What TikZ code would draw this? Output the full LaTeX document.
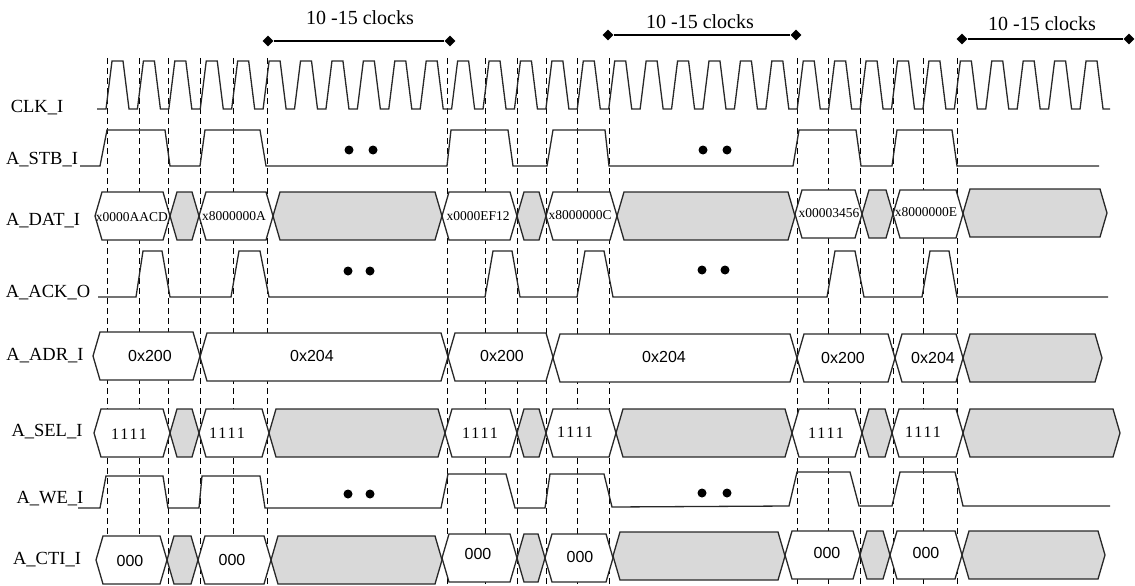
\documentclass[tikz,border=0pt]{standalone}
\usepackage{fontspec}
\setmainfont{Liberation Serif}
\newfontfamily\sansf{Liberation Sans}
\newfontfamily\spacedf[LetterSpace=12]{Liberation Serif}
\usetikzlibrary{shapes.geometric}
\definecolor{busgray}{RGB}{217,217,217}
\definecolor{ink}{RGB}{40,40,40}
\newcommand\bseg[4]{%
  \draw[#4] (#1,#3) -- (#1+7,#3-24) -- (#2-7,#3-24) -- (#2,#3) -- (#2-7,#3+24) -- (#1+7,#3+24) -- cycle;}
\tikzset{
  sig/.style={draw=ink, line width=1.3pt, line join=miter},
  busw/.style={draw=ink, line width=1.3pt, fill=white},
  busg/.style={draw=ink, line width=1.3pt, fill=busgray},
  dsh/.style={draw=black, line width=0.9pt, dash pattern=on 6pt off 4pt},
  lbl/.style={inner sep=0pt, font=\fontsize{18.5}{20}\selectfont},
  dval/.style={inner sep=0pt, font=\fontsize{13.5}{14}\selectfont},
  aval/.style={inner sep=0pt, font=\sansf\fontsize{16}{18}\selectfont},
  sval/.style={inner sep=0pt, font=\spacedf\fontsize{16}{18}\selectfont},
  cval/.style={inner sep=0pt, font=\sansf\fontsize{16}{18}\selectfont},
  ann/.style={inner sep=0pt, font=\fontsize{20}{22}\selectfont},
  dmd/.style={diamond, fill=black, inner sep=0pt, minimum size=11pt},
  dotn/.style={circle, fill=black, inner sep=0pt, minimum size=9pt},
  span/.style={draw=black, line width=1.4pt}
}
\begin{document}
\begin{tikzpicture}[x=1pt,y=-1pt]
\useasboundingbox (0,0) rectangle (1135,586);
\fill[white] (0,0) rectangle (1135,586);

% dashed timing lines
\foreach \d in {107,139,168,200,233,267,447,485,517,546,577,609,797,828,860,893,923,957}
  \draw[dsh] (\d,58) -- (\d,586);

% top annotations
\node[dmd] (a1l) at (268,41) {};
\node[dmd] (a1r) at (450,41) {};
\draw[span] (a1l) -- (a1r);
\node[ann] (t1) at (360,18) {10 -15 clocks};
\node[dmd] (a2l) at (608,35) {};
\node[dmd] (a2r) at (796,35) {};
\draw[span] (a2l) -- (a2r);
\node[ann] (t2) at (700,22) {10 -15 clocks};
\node[dmd] (a3l) at (962,39) {};
\node[dmd] (a3r) at (1129,39) {};
\draw[span] (a3l) -- (a3r);
\node[ann] (t3) at (1042,24) {10 -15 clocks};

% labels
\node[lbl] (lclk) at (37,108) {CLK\_I};
\node[lbl] (lstb) at (42,160) {A\_STB\_I};
\node[lbl] (ldat) at (43,221) {A\_DAT\_I};
\node[lbl] (lack) at (48,293) {A\_ACK\_O};
\node[lbl] (ladr) at (45,356) {A\_ADR\_I};
\node[lbl] (lsel) at (47,432) {A\_SEL\_I};
\node[lbl] (lwe) at (50,499) {A\_WE\_I};
\node[lbl] (lcti) at (47,560) {A\_CTI\_I};

% clock
\draw[sig] (97,109) foreach \k in {0,...,31} {
  -- ({106+31.42*\k},109) -- ({112+31.42*\k},61) -- ({123+31.42*\k},61) -- ({129+31.42*\k},109) } -- (1110,109);

% A_STB_I
\draw[sig] (80,166) -- (100,166) -- (107,130) -- (165,130) -- (170,166) -- (200,166) -- (205,130) -- (260,130) -- (266,166)
  -- (447,166) -- (451,130) -- (508,130) -- (513,166) -- (547,166) -- (553,130) -- (605,130) -- (609,166)
  -- (793,166) -- (799,130) -- (856,130) -- (861,166) -- (892,166) -- (897,130) -- (952,130) -- (957,166) -- (1099,166);
\node[dotn] (sd1) at (349,150) {};
\node[dotn] (sd2) at (373,150) {};
\node[dotn] (sd3) at (703,150) {};
\node[dotn] (sd4) at (727,150) {};

% A_DAT_I
\bseg{95}{170}{216}{busw}
\bseg{170}{199}{216}{busg}
\bseg{199}{273}{216}{busw}
\bseg{273}{442}{216}{busg}
\bseg{442}{517}{216}{busw}
\bseg{517}{546}{216}{busg}
\bseg{546}{617}{216}{busw}
\bseg{617}{795}{216}{busg}
\bseg{795}{862}{214}{busw}
\bseg{862}{893}{214}{busg}
\bseg{893}{963}{214}{busw}
\bseg{963}{1107}{213}{busg}
\node[dval] (d1) at (132,217) {x0000AACD};
\node[dval] (d2) at (234,216) {x8000000A};
\node[dval] (d3) at (478,216) {x0000EF12};
\node[dval] (d4) at (580,215) {x8000000C};
\node[dval] (d5) at (829,213) {x00003456};
\node[dval] (d6) at (926,212) {x8000000E};

% A_ACK_O
\draw[sig] (98,297) -- (136,297) -- (143,251) -- (162,251) -- (170,297) -- (231,297) -- (239,251) -- (260,251) -- (269,297)
  -- (485,297) -- (493,251) -- (512,251) -- (520,297) -- (577,297) -- (585,251) -- (604,251) -- (613,297)
  -- (827,297) -- (835,251) -- (855,251) -- (864,297) -- (922,297) -- (930,251) -- (949,251) -- (957,297) -- (1108,297);
\node[dotn] (ad1) at (348,271) {};
\node[dotn] (ad2) at (370,271) {};
\node[dotn] (ad3) at (702,270) {};
\node[dotn] (ad4) at (725,270) {};

% A_ADR_I
\bseg{93}{200}{356}{busw}
\bseg{200}{448}{357}{busw}
\bseg{448}{553}{357}{busw}
\bseg{553}{797}{358}{busw}
\bseg{797}{895}{358}{busw}
\bseg{895}{963}{358}{busw}
\bseg{963}{1102}{358}{busg}
\node[aval] (r1) at (150,356) {0x200};
\node[aval] (r2) at (312,356) {0x204};
\node[aval] (r3) at (502,356) {0x200};
\node[aval] (r4) at (664,357) {0x204};
\node[aval] (r5) at (843,358) {0x200};
\node[aval] (r6) at (933,358) {0x204};

% A_SEL_I
\bseg{94}{170}{433}{busw}
\bseg{170}{199}{433}{busg}
\bseg{199}{269}{433}{busw}
\bseg{269}{445}{433}{busg}
\bseg{445}{517}{433}{busw}
\bseg{517}{546}{433}{busg}
\bseg{546}{616}{433}{busw}
\bseg{616}{792}{433}{busg}
\bseg{792}{862}{433}{busw}
\bseg{862}{892}{433}{busg}
\bseg{892}{963}{433}{busw}
\bseg{963}{1120}{433}{busg}
\node[sval] (s1) at (129,434) {1111};
\node[sval] (s2) at (227,433) {1111};
\node[sval] (s3) at (480,433) {1111};
\node[sval] (s4) at (575,432) {1111};
\node[sval] (s5) at (826,433) {1111};
\node[sval] (s6) at (923,432) {1111};

% A_WE_I
\draw[sig] (78,508) -- (100,508) -- (106,476) -- (163,476) -- (168,508) -- (199,508) -- (202,476) -- (260,476) -- (265,508)
  -- (441,508) -- (448,474) -- (506,474) -- (515,508) -- (545,508) -- (550,474) -- (604,474) -- (612,507)
  -- (789,506) -- (797,472) -- (850,472) -- (859,506) -- (892,506) -- (900,472) -- (955,472) -- (963,506) -- (1110,506);
\node[dotn] (wd1) at (348,494) {};
\node[dotn] (wd2) at (370,494) {};
\node[dotn] (wd3) at (702,493) {};
\node[dotn] (wd4) at (727,493) {};

% A_CTI_I
\bseg{96}{167}{560}{busw}
\bseg{167}{198}{560}{busg}
\bseg{198}{271}{560}{busw}
\bseg{271}{442}{560}{busg}
\bseg{442}{517}{558}{busw}
\bseg{517}{545}{558}{busg}
\bseg{545}{613}{558}{busw}
\bseg{613}{785}{556}{busg}
\bseg{785}{860}{555}{busw}
\bseg{860}{890}{555}{busg}
\bseg{890}{962}{555}{busw}
\bseg{962}{1105}{555}{busg}
\node[cval] (c1) at (130,561) {000};
\node[cval] (c2) at (232,560) {000};
\node[cval] (c3) at (478,554) {000};
\node[cval] (c4) at (580,557) {000};
\node[cval] (c5) at (827,553) {000};
\node[cval] (c6) at (926,553) {000};
\end{tikzpicture}
\end{document}
